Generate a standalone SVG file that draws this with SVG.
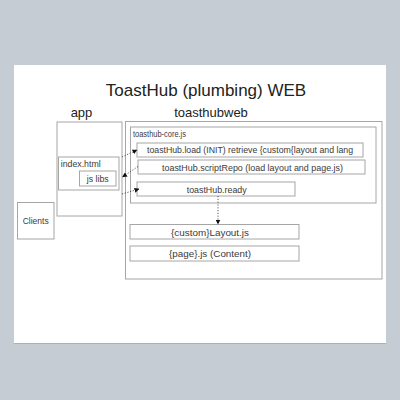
<svg xmlns="http://www.w3.org/2000/svg" width="400" height="400" viewBox="0 0 400 400">
<style>
.b{fill:none;stroke:#a6a6a6;stroke-width:1}
.t{font-family:"Liberation Sans",Arial,sans-serif;font-size:8.6px;fill:#3a3a3a}
.c{text-anchor:middle}
.h{font-family:"Liberation Sans",Arial,sans-serif;fill:#222;text-anchor:middle}
.d{fill:none;stroke:#333;stroke-width:0.8;stroke-dasharray:1.2 1.6}
</style>
<defs>
<marker id="ah" viewBox="0 0 10 10" refX="9" refY="5" markerWidth="5" markerHeight="5" orient="auto" markerUnits="userSpaceOnUse">
<path d="M0,0 L10,5 L0,10 z" fill="#111"/>
</marker>
</defs>
<rect width="400" height="400" fill="#c6ccd4"/>
<rect x="14" y="66" width="372" height="278" fill="#aab0b8"/>
<rect x="14" y="65" width="372" height="278" fill="#fff"/>
<text class="h" x="206" y="96" font-size="17">ToastHub (plumbing) WEB</text>
<text class="h" x="81.5" y="117" font-size="13">app</text>
<text class="h" x="211" y="117" font-size="13">toasthubweb</text>
<g id="app"><rect class="b" x="57" y="122" width="65" height="94"/></g>
<g id="index"><rect class="b" x="58.5" y="157" width="60.5" height="33"/><text class="t" x="60.7" y="166.7" textLength="40" lengthAdjust="spacingAndGlyphs">index.html</text></g>
<g id="jslibs"><rect class="b" x="79.5" y="171" width="36.5" height="15"/><text class="t" x="86.7" y="182.3" textLength="22" lengthAdjust="spacingAndGlyphs">js libs</text></g>
<g id="clients"><rect class="b" x="17.5" y="202.5" width="36.5" height="36.5"/><text class="t" x="22.7" y="224" textLength="26" lengthAdjust="spacingAndGlyphs">Clients</text></g>
<g id="toasthubweb"><rect class="b" x="125.5" y="121.5" width="256.5" height="157.5"/></g>
<g id="core"><rect class="b" x="130.5" y="127" width="245.5" height="76"/><text class="t" x="133" y="136.7" font-size="7.8" textLength="53" lengthAdjust="spacingAndGlyphs">toasthub-core.js</text></g>
<g id="load"><rect class="b" x="137" y="143" width="226" height="14"/><text class="t" x="147" y="153.3" textLength="206" lengthAdjust="spacingAndGlyphs">toastHub.load (INIT) retrieve {custom{layout and lang</text></g>
<g id="scriptRepo"><rect class="b" x="138" y="160" width="227" height="14"/><text class="t" x="162" y="170.7" textLength="181" lengthAdjust="spacingAndGlyphs">toastHub.scriptRepo (load layout and page.js)</text></g>
<g id="ready"><rect class="b" x="137" y="182" width="158" height="14"/><text class="t" x="186.7" y="192.7" textLength="60" lengthAdjust="spacingAndGlyphs">toastHub.ready</text></g>
<g id="layout"><rect class="b" x="130" y="224.5" width="169" height="14.5"/><text class="t" x="171" y="235.5" textLength="78" lengthAdjust="spacingAndGlyphs">{custom}Layout.js</text></g>
<g id="page"><rect class="b" x="130" y="246" width="169" height="15"/><text class="t" x="169" y="257" textLength="82" lengthAdjust="spacingAndGlyphs">{page}.js (Content)</text></g>
<g id="connectors">
<path class="d" d="M122,157 L137,150" marker-end="url(#ah)"/>
<path class="d" d="M138,166.5 L122.5,177" marker-end="url(#ah)"/>
<path class="d" d="M122,194 L139,189" marker-end="url(#ah)"/>
<path class="d" d="M218,196 L218,224" marker-end="url(#ah)"/>
</g>
</svg>
